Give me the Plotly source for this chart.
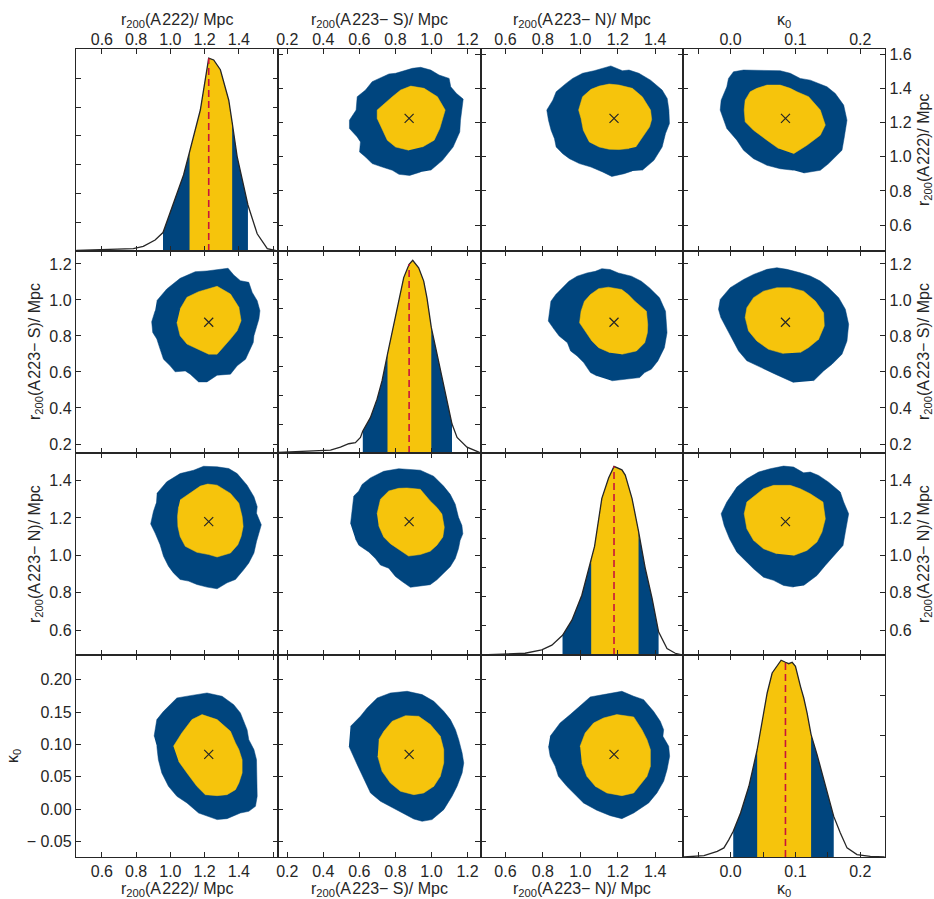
import plotly.graph_objects as go
from plotly.subplots import make_subplots

# ---------------- parameters ----------------
PARAMS = ["A222", "S", "N", "k"]
TITLES = {
    "A222": "r<sub>200</sub>(A\u200a222)/ Mpc",
    "S": "r<sub>200</sub>(A\u200a223− S)/ Mpc",
    "N": "r<sub>200</sub>(A\u200a223− N)/ Mpc",
    "k": "κ<sub>0</sub>",
}
RANGES = {"A222": [0.449, 1.630], "S": [0.150, 1.272], "N": [0.467, 1.547], "k": [-0.0737, 0.238]}
TICKS = {
    "A222": [0.6, 0.8, 1.0, 1.2, 1.4, 1.6],
    "S": [0.2, 0.4, 0.6, 0.8, 1.0, 1.2],
    "N": [0.6, 0.8, 1.0, 1.2, 1.4],
    "k": [-0.05, 0.0, 0.05, 0.10, 0.15, 0.20],
}
XTICKTEXT = {
    "A222": ["0.6", "0.8", "1.0", "1.2", "1.4", ""],
    "S": ["0.2", "0.4", "0.6", "0.8", "1.0", "1.2"],
    "N": ["0.6", "0.8", "1.0", "1.2", "1.4"],
    "k": ["", "0.0", "", "0.1", "", "0.2"],
}
YTICKTEXT = {
    "A222": ["0.6", "0.8", "1.0", "1.2", "1.4", "1.6"],
    "S": ["0.2", "0.4", "0.6", "0.8", "1.0", "1.2"],
    "N": ["0.6", "0.8", "1.0", "1.2", "1.4"],
    "k": ["− 0.05", "0.00", "0.05", "0.10", "0.15", "0.20"],
}
BEST = {"A222": 1.224, "S": 0.876, "N": 1.180, "k": 0.0846}
CI68 = {"A222": (1.112, 1.361), "S": (0.756, 0.999), "N": (1.058, 1.311), "k": (0.0410, 0.1241)}
CI95 = {"A222": (0.957, 1.453), "S": (0.619, 1.114), "N": (0.905, 1.418), "k": (0.0041, 0.1590)}
PDF_TOP = {"A222": 3.51, "S": 3.49, "N": 3.48, "k": 10.0}
PDF_DTICK = {"A222": 0.5, "S": 0.5, "N": 0.5, "k": 2.0}

# ---------------- 1D marginal posteriors ----------------
A222_PDF_X = [0.451, 0.784, 0.842, 0.911, 0.957, 1.018, 1.077, 1.112, 1.175, 1.224, 1.253, 1.292,
              1.341, 1.361, 1.390, 1.453, 1.507, 1.566, 1.625]
A222_PDF_Y = [0.01, 0.04, 0.08, 0.19, 0.32, 0.82, 1.32, 1.72, 2.45, 3.35, 3.32, 3.15,
              2.62, 2.23, 1.64, 0.80, 0.30, 0.04, 0.0]
S_PDF_X = [0.150, 0.292, 0.440, 0.495, 0.541, 0.578, 0.606, 0.619, 0.661, 0.698, 0.726, 0.756, 0.782,
           0.809, 0.846, 0.876, 0.896, 0.929, 0.957, 0.975, 0.999, 1.031, 1.068, 1.114, 1.142, 1.197, 1.266]
S_PDF_Y = [0.01, 0.03, 0.05, 0.10, 0.16, 0.18, 0.27, 0.38, 0.61, 0.93, 1.25, 1.71, 2.08,
           2.45, 3.03, 3.26, 3.33, 3.20, 2.97, 2.68, 2.17, 1.71, 1.19, 0.50, 0.27, 0.10, 0.01]
N_PDF_X = [0.467, 0.598, 0.705, 0.794, 0.848, 0.905, 0.955, 1.008, 1.058, 1.076, 1.115, 1.151, 1.180,
           1.222, 1.240, 1.276, 1.311, 1.347, 1.383, 1.418, 1.463, 1.507, 1.543]
N_PDF_Y = [0.0, 0.01, 0.03, 0.09, 0.17, 0.34, 0.60, 1.03, 1.66, 1.87, 2.70, 3.05, 3.25,
           3.19, 3.10, 2.70, 2.13, 1.49, 0.98, 0.40, 0.11, 0.03, 0.0]
K_PDF_X = [-0.0718, -0.041, -0.0205, -0.0103, -0.0026, 0.0041, 0.0154, 0.0282, 0.0410, 0.0487, 0.0564,
           0.0641, 0.0692, 0.0779, 0.0846, 0.0897, 0.0949, 0.1000, 0.1077, 0.1128, 0.1179, 0.1241,
           0.1333, 0.1436, 0.1513, 0.1590, 0.1692, 0.1795, 0.1949, 0.2154, 0.2375]
K_PDF_Y = [0.0, 0.07, 0.28, 0.45, 0.86, 1.27, 2.18, 3.50, 5.31, 6.63, 8.12,
           9.11, 9.36, 9.74, 9.64, 9.57, 9.64, 9.44, 8.45, 7.87, 7.13, 6.06,
           5.07, 3.83, 2.84, 2.01, 1.19, 0.45, 0.12, 0.03, 0.0]

# ---------------- 2D credible regions (x = earlier param, y = later param) ----------------
A222_S_OUTER = [(0.921, 0.996), (0.979, 1.061), (1.057, 1.120), (1.145, 1.157), (1.214, 1.161),
                (1.273, 1.168), (1.337, 1.176), (1.370, 1.139), (1.409, 1.107), (1.458, 1.098),
                (1.478, 1.042), (1.507, 0.996), (1.523, 0.940), (1.517, 0.894), (1.503, 0.848),
                (1.488, 0.801), (1.484, 0.764), (1.458, 0.708), (1.439, 0.671), (1.390, 0.634),
                (1.351, 0.588), (1.273, 0.582), (1.214, 0.545), (1.165, 0.545), (1.116, 0.588),
                (1.087, 0.606), (1.028, 0.601), (0.999, 0.634), (0.960, 0.671), (0.940, 0.727),
                (0.921, 0.783), (0.897, 0.820), (0.891, 0.879), (0.911, 0.940)]
A222_S_INNER = [(1.057, 0.950), (1.097, 1.015), (1.165, 1.046), (1.273, 1.076), (1.351, 1.033),
                (1.400, 0.959), (1.413, 0.885), (1.390, 0.829), (1.351, 0.783), (1.273, 0.699),
                (1.224, 0.699), (1.155, 0.727), (1.097, 0.755), (1.057, 0.801), (1.038, 0.875)]

A222_N_OUTER = [(0.921, 1.331), (0.979, 1.393), (1.057, 1.437), (1.136, 1.455), (1.194, 1.476),
                (1.273, 1.473), (1.341, 1.464), (1.390, 1.437), (1.448, 1.375), (1.488, 1.313),
                (1.507, 1.260), (1.503, 1.225), (1.531, 1.163), (1.517, 1.119), (1.503, 1.074),
                (1.488, 1.012), (1.458, 0.959), (1.429, 0.924), (1.380, 0.871), (1.331, 0.853),
                (1.273, 0.821), (1.214, 0.830), (1.155, 0.844), (1.106, 0.862), (1.057, 0.871),
                (1.018, 0.906), (0.989, 0.942), (0.960, 0.995), (0.940, 1.057), (0.911, 1.119),
                (0.885, 1.168), (0.901, 1.234), (0.917, 1.278)]
A222_N_INNER = [(1.057, 1.296), (1.116, 1.331), (1.175, 1.370), (1.218, 1.381), (1.273, 1.375),
                (1.351, 1.331), (1.400, 1.278), (1.419, 1.207), (1.425, 1.154), (1.413, 1.101),
                (1.394, 1.057), (1.351, 1.012), (1.273, 0.991), (1.224, 1.004), (1.155, 1.016),
                (1.087, 1.048), (1.057, 1.101), (1.044, 1.154), (1.042, 1.207), (1.048, 1.260)]

A222_K_OUTER = [(0.905, 0.1126), (0.921, 0.1383), (0.960, 0.1511), (1.038, 0.1717), (1.116, 0.1753),
                (1.214, 0.1794), (1.302, 0.1743), (1.370, 0.1614), (1.409, 0.1486), (1.448, 0.1228),
                (1.458, 0.1074), (1.488, 0.0920), (1.503, 0.0765), (1.507, 0.0200), (1.497, 0.0045),
                (1.458, -0.0032), (1.409, -0.0058), (1.331, -0.0145), (1.273, -0.0160),
                (1.165, -0.0058), (1.097, 0.0097), (1.038, 0.0200), (0.989, 0.0354), (0.950, 0.0560),
                (0.930, 0.0765), (0.921, 0.0971)]
A222_K_INNER = [(1.018, 0.0971), (1.067, 0.1177), (1.126, 0.1383), (1.185, 0.1460), (1.273, 0.1383),
                (1.351, 0.1203), (1.380, 0.1023), (1.400, 0.0920), (1.419, 0.0765), (1.419, 0.0560),
                (1.400, 0.0405), (1.380, 0.0302), (1.331, 0.0225), (1.273, 0.0210), (1.204, 0.0225),
                (1.155, 0.0354), (1.097, 0.0560), (1.048, 0.0740)]

S_N_OUTER = [(0.551, 1.168), (0.560, 1.247), (0.569, 1.317), (0.597, 1.344), (0.615, 1.379),
             (0.661, 1.414), (0.735, 1.449), (0.818, 1.463), (0.938, 1.455), (1.012, 1.423),
             (1.067, 1.370), (1.104, 1.326), (1.132, 1.273), (1.150, 1.203), (1.169, 1.159),
             (1.174, 1.115), (1.159, 1.080), (1.150, 1.036), (1.132, 0.983), (1.104, 0.939),
             (1.067, 0.904), (1.030, 0.869), (0.993, 0.843), (0.883, 0.829), (0.837, 0.860),
             (0.800, 0.887), (0.763, 0.931), (0.717, 0.948), (0.689, 0.983), (0.652, 1.018),
             (0.597, 1.054), (0.578, 1.089)]
S_N_INNER = [(0.698, 1.221), (0.717, 1.300), (0.763, 1.344), (0.818, 1.358), (0.864, 1.360),
             (0.938, 1.353), (0.993, 1.291), (1.030, 1.256), (1.058, 1.221), (1.071, 1.150),
             (1.063, 1.098), (1.030, 1.054), (0.993, 1.022), (0.938, 1.004), (0.873, 0.996),
             (0.837, 1.018), (0.772, 1.062), (0.735, 1.098), (0.707, 1.159)]

S_K_OUTER = [(0.551, 0.1280), (0.606, 0.1434), (0.643, 0.1563), (0.699, 0.1717), (0.772, 0.1794),
             (0.865, 0.1820), (0.948, 0.1769), (1.013, 0.1666), (1.068, 0.1511), (1.105, 0.1383),
             (1.133, 0.1228), (1.151, 0.1074), (1.170, 0.0868), (1.179, 0.0714), (1.170, 0.0560),
             (1.142, 0.0354), (1.114, 0.0200), (1.068, -0.0006), (1.003, -0.0160), (0.948, -0.0186),
             (0.902, -0.0150), (0.837, -0.0058), (0.772, 0.0045), (0.717, 0.0123), (0.662, 0.0251),
             (0.625, 0.0457), (0.588, 0.0688), (0.542, 0.0971)]
S_K_INNER = [(0.708, 0.1074), (0.736, 0.1203), (0.782, 0.1357), (0.856, 0.1444), (0.929, 0.1434),
             (0.994, 0.1306), (1.049, 0.1126), (1.068, 0.0920), (1.068, 0.0714), (1.049, 0.0508),
             (1.013, 0.0354), (0.957, 0.0251), (0.902, 0.0225), (0.828, 0.0277), (0.772, 0.0405),
             (0.726, 0.0585), (0.702, 0.0817)]

N_K_OUTER = [(0.839, 0.1126), (0.892, 0.1331), (0.946, 0.1460), (0.999, 0.1588), (1.053, 0.1733),
             (1.124, 0.1769), (1.222, 0.1820), (1.285, 0.1743), (1.338, 0.1691), (1.391, 0.1511),
             (1.427, 0.1357), (1.445, 0.1228), (1.441, 0.1126), (1.472, 0.0971), (1.477, 0.0817),
             (1.463, 0.0611), (1.445, 0.0431), (1.409, 0.0251), (1.365, 0.0097), (1.285, -0.0058),
             (1.222, -0.0145), (1.160, -0.0099), (1.088, -0.0016), (1.017, 0.0097), (0.964, 0.0251),
             (0.928, 0.0354), (0.883, 0.0508), (0.866, 0.0663), (0.839, 0.0817), (0.830, 0.0971)]
N_K_INNER = [(0.999, 0.0971), (1.026, 0.1177), (1.071, 0.1331), (1.124, 0.1408), (1.195, 0.1460),
             (1.285, 0.1424), (1.329, 0.1228), (1.356, 0.1074), (1.374, 0.0920), (1.374, 0.0663),
             (1.356, 0.0508), (1.329, 0.0405), (1.285, 0.0251), (1.222, 0.0210), (1.142, 0.0251),
             (1.080, 0.0354), (1.035, 0.0508), (1.008, 0.0714)]

# ---------------- styling ----------------
BLUE = "#00457e"
YELLOW = "#f6c40c"
RED = "#c8143c"
INK = "#262626"
FONT = "Liberation Sans, Arial, Helvetica, sans-serif"
FS = 16
W, H = 934, 899
ML, MR, MT, MB = 76, 49, 49, 42

PDFS = {"A222": (A222_PDF_X, A222_PDF_Y), "S": (S_PDF_X, S_PDF_Y),
        "N": (N_PDF_X, N_PDF_Y), "k": (K_PDF_X, K_PDF_Y)}
CONTOURS = {("A222", "S"): (A222_S_OUTER, A222_S_INNER),
            ("A222", "N"): (A222_N_OUTER, A222_N_INNER),
            ("A222", "k"): (A222_K_OUTER, A222_K_INNER),
            ("S", "N"): (S_N_OUTER, S_N_INNER),
            ("S", "k"): (S_K_OUTER, S_K_INNER),
            ("N", "k"): (N_K_OUTER, N_K_INNER)}

fig = make_subplots(rows=4, cols=4, horizontal_spacing=0, vertical_spacing=0)


def segment(xs, ys, lo, hi):
    sx, sy = [], []
    for x, y in zip(xs, ys):
        if lo - 1e-9 <= x <= hi + 1e-9:
            sx.append(x)
            sy.append(y)
    return sx, sy


for r in range(4):
    for c in range(4):
        px, py = PARAMS[c], PARAMS[r]
        if r == c:
            xs, ys = PDFS[px]
            for (lo, hi), col in ((CI95[px], BLUE), (CI68[px], YELLOW)):
                sx, sy = segment(xs, ys, lo, hi)
                fig.add_trace(go.Scatter(x=sx, y=sy, mode="lines", fill="tozeroy", fillcolor=col,
                                         line=dict(width=0, color=col), hoverinfo="skip",
                                         showlegend=False), row=r + 1, col=c + 1)
            fig.add_trace(go.Scatter(x=xs, y=ys, mode="lines", line=dict(color=INK, width=1.3),
                                     hoverinfo="skip", showlegend=False), row=r + 1, col=c + 1)
            peak = ys[xs.index(BEST[px])]
            fig.add_trace(go.Scatter(x=[BEST[px], BEST[px]], y=[0, peak], mode="lines",
                                     line=dict(color=RED, width=1.6, dash="7px,4px"),
                                     hoverinfo="skip", showlegend=False), row=r + 1, col=c + 1)
        else:
            if (px, py) in CONTOURS:
                outer, inner = CONTOURS[(px, py)]
                swap = False
            else:
                outer, inner = CONTOURS[(py, px)]
                swap = True
            for poly, col in ((outer, BLUE), (inner, YELLOW)):
                xs = [p[1] if swap else p[0] for p in poly]
                ys = [p[0] if swap else p[1] for p in poly]
                fig.add_trace(go.Scatter(x=xs, y=ys, mode="lines", fill="toself", fillcolor=col,
                                         line=dict(width=0.5, color=col), hoverinfo="skip",
                                         showlegend=False), row=r + 1, col=c + 1)
            fig.add_trace(go.Scatter(x=[BEST[px]], y=[BEST[py]], mode="markers",
                                     marker=dict(symbol="x-thin", size=9, line=dict(width=1.2, color=INK)),
                                     hoverinfo="skip", showlegend=False), row=r + 1, col=c + 1)

axis_common = dict(showline=True, mirror="ticks", linecolor=INK, linewidth=1.4, ticks="inside",
                   ticklen=5, tickwidth=1.1, tickcolor=INK, showgrid=False, zeroline=False,
                   automargin=False, tickfont=dict(family=FONT, size=FS, color=INK))
title_font = dict(family=FONT, size=FS, color=INK)

for r in range(4):
    for c in range(4):
        k = r * 4 + c + 1
        suffix = "" if k == 1 else str(k)
        px, py = PARAMS[c], PARAMS[r]
        xa = dict(axis_common, range=RANGES[px], tickmode="array", tickvals=TICKS[px],
                  ticktext=XTICKTEXT[px])
        if r == 0:
            xa.update(side="top", showticklabels=True, ticklabelstandoff=-4)
        elif r == 3:
            xa.update(side="bottom", showticklabels=True)
        else:
            xa.update(showticklabels=False)
        if r == c:
            ya = dict(axis_common, range=[0, PDF_TOP[py]], tickmode="linear", tick0=0,
                      dtick=PDF_DTICK[py], showticklabels=False)
        else:
            ya = dict(axis_common, range=RANGES[py], tickmode="array", tickvals=TICKS[py],
                      ticktext=YTICKTEXT[py], showticklabels=False)
            if c == 0:
                ya.update(side="left", showticklabels=True)
            elif c == 3:
                ya.update(side="right", showticklabels=True)
        fig.layout["xaxis" + suffix].update(xa)
        fig.layout["yaxis" + suffix].update(ya)

# ---------------- axis titles (placed as annotations in page pixels) ----------------
PW, PH = W - ML - MR, H - MT - MB


def pxx(x):
    return (x - ML) / PW


def pxy(y):
    return (H - MB - y) / PH


annotations = []
for i, p in enumerate(PARAMS):
    cx = ML + PW * (i + 0.5) / 4
    cy = MT + PH * (i + 0.5) / 4
    annotations.append(dict(text=TITLES[p], x=pxx(cx), y=pxy(21), xref="paper", yref="paper",
                            xanchor="center", yanchor="middle", showarrow=False, font=title_font))
    annotations.append(dict(text=TITLES[p], x=pxx(cx), y=pxy(889), xref="paper", yref="paper",
                            xanchor="center", yanchor="middle", showarrow=False, font=title_font))
    if i > 0:
        lx = 13 if p == "k" else 35
        annotations.append(dict(text=TITLES[p], x=pxx(lx), y=pxy(cy), xref="paper", yref="paper",
                                xanchor="center", yanchor="middle", textangle=-90, showarrow=False,
                                font=title_font))
    if i < 3:
        annotations.append(dict(text=TITLES[p], x=pxx(924), y=pxy(cy), xref="paper", yref="paper",
                                xanchor="center", yanchor="middle", textangle=-90, showarrow=False,
                                font=title_font))

fig.update_layout(width=W, height=H, margin=dict(l=ML, r=MR, t=MT, b=MB, autoexpand=False),
                  paper_bgcolor="white", plot_bgcolor="white",
                  font=dict(family=FONT, size=FS, color=INK), showlegend=False,
                  annotations=annotations)

fig.write_html("out.html", config={"displayModeBar": False},
               post_script="document.body.style.margin='0';document.body.style.overflow='hidden';")
